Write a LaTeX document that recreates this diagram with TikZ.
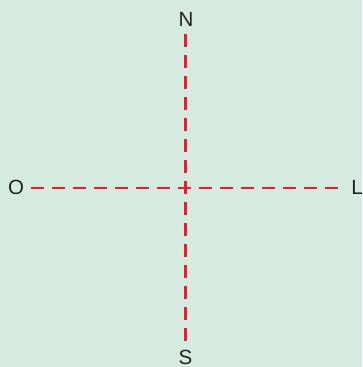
\documentclass[tikz,border=0pt]{standalone}
\usepackage{fontspec}
\setmainfont{Liberation Sans}
\definecolor{bg}{HTML}{D5EBE0}
\definecolor{axisred}{HTML}{EC1C2A}
\definecolor{txt}{HTML}{222222}
\begin{document}
\begin{tikzpicture}[x=1pt,y=1pt,
  lbl/.style={inner sep=0pt, text=txt, font=\fontsize{20.5}{24}\selectfont},
  axis/.style={draw=axisred, line width=2.2pt, dash pattern=on 13pt off 8pt}]
\fill[bg] (0,0) rectangle (362,367);
\useasboundingbox (0,0) rectangle (362,367);
\node[lbl] (N) at (186,347.5) {N};
\node[lbl] (S) at (185.5,9.5) {S};
\node[lbl] (O) at (16,180) {O};
\node[lbl] (L) at (357,180) {L};
\coordinate (hw) at (31,179);
\coordinate (he) at (340,179);
\coordinate (vn) at (185.5,333);
\coordinate (vs) at (185.5,23);
\draw[axis] (hw) -- (he);
\draw[axis] (vn) -- (vs);
\end{tikzpicture}
\end{document}
